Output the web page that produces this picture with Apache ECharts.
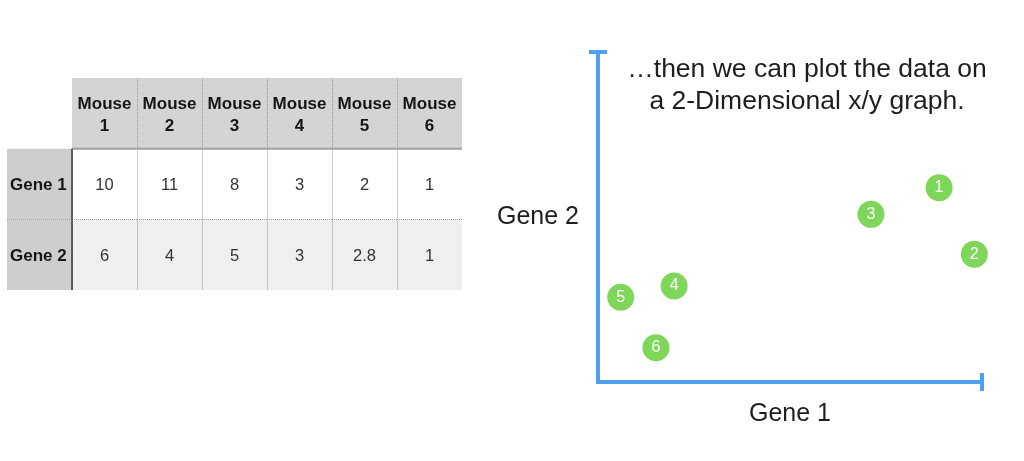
<!DOCTYPE html>
<html>
<head>
<meta charset="utf-8">
<script src="https://cdn.jsdelivr.net/npm/echarts@6/dist/echarts.min.js"></script>
<style>
  html, body { margin: 0; padding: 0; background: #fff; }
  #chart { width: 1024px; height: 461px; }
</style>
</head>
<body>
<div id="chart"></div>
<script>
// table contents
const mice = ['Mouse\n1', 'Mouse\n2', 'Mouse\n3', 'Mouse\n4', 'Mouse\n5', 'Mouse\n6'];
const genes = ['Gene 1', 'Gene 2'];
const gene1 = [10, 11, 8, 3, 2, 1];
const gene2 = [6, 4, 5, 3, 2.8, 1];

// where the dots sit on the x/y graph
const dotNames = ['1', '2', '3', '4', '5', '6'];
const dotX = [9.77, 10.78, 7.82, 2.18, 0.65, 1.66];
const dotY = [5.89, 3.87, 5.08, 2.91, 2.57, 1.04];

const FONT = '"Liberation Sans", Arial, Helvetica, sans-serif';
const BLUE = '#4ea1ee';
const GREEN = '#7ed65a';

// build the table cells: column 0 = row headers, row 0 = column headers
const geneRows = [gene1, gene2];
const cells = [];
mice.forEach((m, i) => cells.push({ value: [i + 1, 0], text: m, kind: 'head' }));
genes.forEach((g, j) => {
  cells.push({ value: [0, j + 1], text: g, kind: 'rowhead' });
  geneRows[j].forEach((v, i) => {
    cells.push({ value: [i + 1, j + 1], text: String(v), kind: j === 0 ? 'row1' : 'row2' });
  });
});

const fills = { head: '#d4d4d4', rowhead: '#cecece', row1: '#ffffff', row2: '#efefef' };
const half = v => Math.round(v) + 0.5; // crisp 1px lines

function renderCell(params, api) {
  const cell = cells[params.dataIndex];
  const c = api.value(0), r = api.value(1);
  const p = api.coord([c, r]);
  const s = api.size([1, 1]);
  const x0 = p[0] - s[0] / 2, y0 = p[1] - s[1] / 2;
  const x1 = x0 + s[0], y1 = y0 + s[1];
  const children = [{
    type: 'rect',
    shape: { x: x0, y: y0, width: s[0], height: s[1] },
    style: { fill: fills[cell.kind] }
  }];
  // right edge
  if (c < 6) {
    children.push(c === 0
      ? { type: 'line', z2: 10, shape: { x1: x1, y1: y0, x2: x1, y2: y1 },
          style: { stroke: '#5a5a5a', lineWidth: 2 } }
      : { type: 'line', z2: 10, shape: { x1: half(x1), y1: y0, x2: half(x1), y2: y1 },
          style: { stroke: '#9a9a9a', lineWidth: 1, lineDash: [1, 1] } });
  }
  // bottom edge
  if (r < 2) {
    children.push(r === 0
      ? { type: 'line', z2: 10, shape: { x1: x0, y1: y1, x2: x1, y2: y1 },
          style: { stroke: '#a0a0a0', lineWidth: 2 } }
      : { type: 'line', z2: 10, shape: { x1: x0, y1: half(y1), x2: x1, y2: half(y1) },
          style: { stroke: '#9a9a9a', lineWidth: 1, lineDash: [1, 1] } });
  }
  const bold = cell.kind === 'head' || cell.kind === 'rowhead';
  children.push({
    type: 'text', z2: 20,
    x: cell.kind === 'rowhead' ? x0 + 3 : p[0],
    y: p[1] + 1.5,
    style: {
      text: cell.text,
      fill: bold ? '#151515' : '#333333',
      fontFamily: FONT,
      fontSize: bold ? 17 : 16.5,
      fontWeight: bold ? 'bold' : 'normal',
      lineHeight: 22,
      align: cell.kind === 'rowhead' ? 'left' : 'center',
      verticalAlign: 'middle'
    }
  });
  return { type: 'group', children: children };
}

const chart = echarts.init(document.getElementById('chart'));
chart.setOption({
  animation: false,
  backgroundColor: '#ffffff',
  title: {
    text: '…then we can plot the data on\na 2-Dimensional x/y graph.',
    left: 807,
    top: 54,
    padding: 0,
    textAlign: 'center',
    textStyle: {
      fontFamily: FONT,
      fontSize: 26.5,
      fontWeight: 'normal',
      color: '#1e1e1e',
      lineHeight: 31.5
    }
  },
  grid: [
    { left: 598, top: 52, right: 42, bottom: 79, outerBoundsMode: 'none' },
    { left: 7, top: 78, width: 455, height: 212, outerBoundsMode: 'none' }
  ],
  xAxis: [
    {
      type: 'value', gridIndex: 0, min: 0, max: 11,
      name: 'Gene 1', nameLocation: 'middle', nameGap: 20,
      nameTextStyle: { fontFamily: FONT, fontSize: 25, color: '#1e1e1e' },
      axisLine: {
        show: true, onZero: false,
        symbol: ['none', 'rect'], symbolSize: [18, 4],
        lineStyle: { color: BLUE, width: 4, cap: 'square' }
      },
      axisTick: { show: false }, axisLabel: { show: false }, splitLine: { show: false }
    },
    {
      type: 'category', gridIndex: 1, show: false,
      data: [''].concat(mice)
    }
  ],
  yAxis: [
    {
      type: 'value', gridIndex: 0, min: 0, max: 10,
      name: 'Gene 2', nameLocation: 'middle', nameGap: 19, nameRotate: 0,
      nameTextStyle: { fontFamily: FONT, fontSize: 25, color: '#1e1e1e' },
      axisLine: {
        show: true, onZero: false,
        symbol: ['none', 'rect'], symbolSize: [18, 4],
        lineStyle: { color: BLUE, width: 4, cap: 'square' }
      },
      axisTick: { show: false }, axisLabel: { show: false }, splitLine: { show: false }
    },
    {
      type: 'category', gridIndex: 1, show: false, inverse: true,
      data: [''].concat(genes)
    }
  ],
  series: [
    {
      type: 'scatter', xAxisIndex: 0, yAxisIndex: 0,
      data: dotX.map((x, i) => [x, dotY[i], dotNames[i]]),
      symbolSize: 27,
      itemStyle: { color: GREEN, opacity: 1 },
      label: {
        show: true, position: 'inside',
        formatter: p => p.value[2],
        color: '#ffffff', fontFamily: FONT, fontSize: 16
      }
    },
    {
      type: 'custom', xAxisIndex: 1, yAxisIndex: 1,
      data: cells.map(c => c.value),
      renderItem: renderCell
    }
  ]
});
</script>
</body>
</html>
